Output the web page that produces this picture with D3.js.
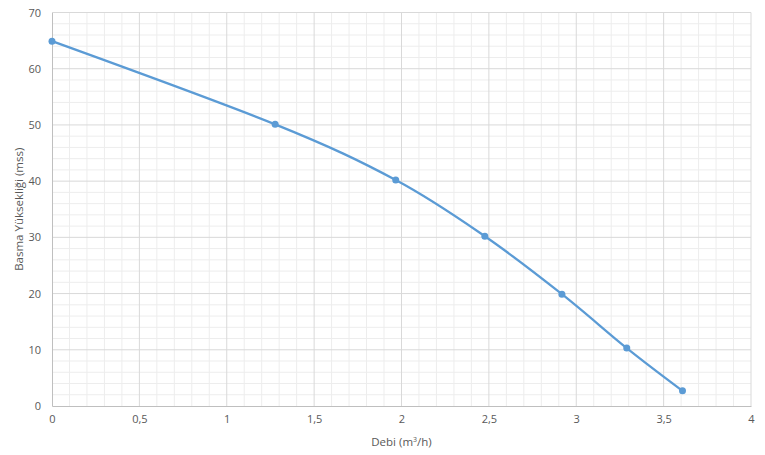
<!DOCTYPE html>
<html>
<head>
<meta charset="utf-8">
<script src="https://cdn.jsdelivr.net/npm/d3@7"></script>
<style>
body { margin: 0; background: #fff; }
text { font-family: "Open Sans", "Liberation Sans", sans-serif; fill: #595959; }
</style>
</head>
<body>
<div class="chart"></div>
<script>
// pump curve: flow (m3/h) vs head (mss)
var debi = [0, 1.277, 1.967, 2.477, 2.918, 3.289, 3.608];
var basma = [64.9, 50.1, 40.2, 30.2, 19.9, 10.3, 2.7];
var xTicks = [0, 0.5, 1, 1.5, 2, 2.5, 3, 3.5, 4];
var yTicks = [0, 10, 20, 30, 40, 50, 60, 70];

var fullWidth = 765, fullHeight = 455;
var margin = {top: 12.5, right: 14, bottom: 49, left: 52};
var width = fullWidth - margin.left - margin.right,
    height = fullHeight - margin.top - margin.bottom;

var svg = d3.select(".chart").append("svg")
    .attr("width", fullWidth)
    .attr("height", fullHeight)
  .append("g")
    .attr("transform", "translate(" + margin.left + "," + margin.top + ")");

var x = d3.scaleLinear().domain([0, 4]).range([0, width]);
var y = d3.scaleLinear().domain([0, 70]).range([height, 0]);

var fmt = function(d) { return String(d).replace(".", ","); };

// minor grid
svg.append("g").selectAll("line")
    .data(d3.range(1, 40).map(d => d / 10).filter(d => Math.round(d * 10) % 5 != 0))
    .enter().append("line")
    .attr("x1", d => x(d)).attr("x2", d => x(d))
    .attr("y1", 0).attr("y2", height)
    .attr("stroke", "#ededed");
svg.append("g").selectAll("line")
    .data(d3.range(2, 70, 2).filter(d => d % 10 != 0))
    .enter().append("line")
    .attr("y1", d => y(d)).attr("y2", d => y(d))
    .attr("x1", 0).attr("x2", width)
    .attr("stroke", "#ededed");

// major grid
svg.append("g").selectAll("line")
    .data(xTicks.slice(1))
    .enter().append("line")
    .attr("x1", d => x(d)).attr("x2", d => x(d))
    .attr("y1", 0).attr("y2", height)
    .attr("stroke", "#d9d9d9");
svg.append("g").selectAll("line")
    .data(yTicks.slice(1))
    .enter().append("line")
    .attr("y1", d => y(d)).attr("y2", d => y(d))
    .attr("x1", 0).attr("x2", width)
    .attr("stroke", "#d9d9d9");

// axes
var xAxis = svg.append("g")
    .attr("transform", "translate(0," + height + ")")
    .call(d3.axisBottom(x).tickValues(xTicks).tickFormat(fmt).tickSize(0).tickPadding(9));
var yAxis = svg.append("g")
    .call(d3.axisLeft(y).tickValues(yTicks).tickSize(0).tickPadding(11));
[xAxis, yAxis].forEach(function(a) {
    a.select(".domain").attr("stroke", "#bfbfbf");
    a.selectAll("text").attr("font-size", "11px").attr("fill", "#595959")
        .attr("font-family", "'Open Sans', sans-serif");
});

// curve
var pts = debi.map((d, i) => [x(d), y(basma[i])]);
svg.append("path")
    .attr("d", d3.line().curve(d3.curveCatmullRom.alpha(0))(pts))
    .attr("fill", "none")
    .attr("stroke", "#5b9bd5")
    .attr("stroke-width", 2.25);

svg.selectAll("circle")
    .data(pts)
    .enter().append("circle")
    .attr("cx", d => d[0]).attr("cy", d => d[1])
    .attr("r", 3.5)
    .attr("fill", "#5b9bd5");

// titles
svg.append("text")
    .attr("x", width / 2).attr("y", height + 40)
    .attr("text-anchor", "middle")
    .attr("font-size", "11.5px")
    .html("Debi (m<tspan baseline-shift='super' font-size='7px'>3</tspan>/h)");

svg.append("text")
    .attr("transform", "translate(" + (-29) + "," + (height / 2) + ") rotate(-90)")
    .attr("text-anchor", "middle")
    .attr("font-size", "11.5px")
    .text("Basma Yüksekliği (mss)");
</script>
</body>
</html>
